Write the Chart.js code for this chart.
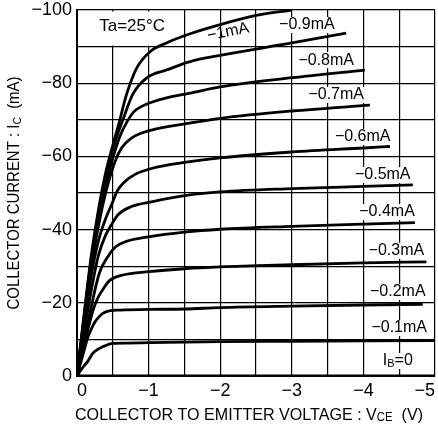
<!DOCTYPE html>
<html>
<head>
<meta charset="utf-8">
<script src="https://cdn.jsdelivr.net/npm/chart.js@4.4.1/dist/chart.umd.min.js"></script>
<style>
  html, body { margin: 0; padding: 0; background: #fff; }
</style>
</head>
<body>
<canvas id="myChart" width="438" height="434"></canvas>
<script>
// IC - VCE curves, magnitudes: [VCE (V), IC (mA)]
const ib_0  = [[0,0],[5,0]];
const ib_01 = [[0,0],[0.05,1.5],[0.1,2.8],[0.15,4],[0.22,6.2],[0.3,7.4],[0.36,8],[0.5,8.9],[0.7,9],[1,9.1],[2,9.4],[3,9.5],[4,9.6],[5,9.7]];
const ib_02 = [[0,0],[0.05,3.5],[0.1,7],[0.15,10.5],[0.2,12.8],[0.24,14.4],[0.3,16],[0.36,17.1],[0.45,17.8],[0.6,18],[1,18.2],[1.5,18.3],[2,18.7],[3,19.1],[4,19.4],[4.83,19.6]];
const ib_03 = [[0,0],[0.1,8.5],[0.2,16.3],[0.24,18.9],[0.3,21.7],[0.36,23.6],[0.45,26],[0.64,27.6],[1,28.5],[1.5,29.3],[2,29.8],[3,30.4],[4,30.9],[4.88,31.2]];
const ib_04 = [[0,0],[0.1,9.5],[0.2,19],[0.31,28],[0.43,32.6],[0.54,35.3],[0.68,36.7],[1,38],[1.5,39.3],[2,40.1],[3,40.9],[4,41.5],[4.72,41.9]];
const ib_05 = [[0,0],[0.1,12],[0.2,23.5],[0.3,33],[0.4,38.5],[0.48,41.3],[0.57,44],[0.76,46.3],[1.04,47.6],[1.55,49.4],[2,50.3],[3,51.2],[4,51.8],[4.69,52.2]];
const ib_06 = [[0,0],[0.1,14],[0.2,27.5],[0.3,37],[0.4,43],[0.48,46.7],[0.57,50.8],[0.76,54.5],[1.04,56.7],[1.55,58.5],[2,59.6],[3,61.2],[4,62.3],[4.37,62.7]];
const ib_07 = [[0,0],[0.1,15],[0.2,30],[0.3,41],[0.4,50],[0.53,58.5],[0.62,62.2],[0.76,65],[1.04,67.2],[1.55,69],[2,70.4],[3,72.4],[4.09,74]];
const ib_08 = [[0,0],[0.1,16],[0.2,31],[0.3,43],[0.4,52],[0.5,59.5],[0.6,65.5],[0.7,69.5],[0.8,72.3],[1,74.5],[1.25,76],[1.58,77.3],[2,79],[3,81.5],[4.02,83.6]];
const ib_09 = [[0,0],[0.1,16.5],[0.2,32],[0.3,44],[0.4,54],[0.5,62],[0.65,70.5],[0.78,77],[0.97,81.4],[1.25,83.6],[1.58,85.9],[2,87.6],[3,91],[3.76,93.7]];
const ib_10 = [[0,0],[0.1,17],[0.2,33],[0.3,45.5],[0.4,55.5],[0.5,63],[0.58,68.6],[0.69,76.8],[0.83,84],[1.02,88.6],[1.25,91],[1.58,93.5],[2,96],[2.5,98.5],[3,100]];

const curves = [ib_0, ib_01, ib_02, ib_03, ib_04, ib_05, ib_06, ib_07, ib_08, ib_09, ib_10];
const ibNames = ['IB=0', '−0.1mA', '−0.2mA', '−0.3mA', '−0.4mA', '−0.5mA', '−0.6mA', '−0.7mA', '−0.8mA', '−0.9mA', '−1mA'];
// where each IB label sits, in chart units [VCE, IC]
const ibLabelAt = [[4.48,4.1],[4.5,13.1],[4.48,23],[4.46,34.2],[4.33,44.8],[4.27,54.9],[3.99,65.3],[3.62,76.8],[3.48,86.3],[3.21,95.9],[2.11,94]];

const FONT = "'Liberation Sans', Arial, sans-serif";
const NARROW = "'Liberation Sans Narrow', 'Liberation Sans', Arial, sans-serif";

// minus sign formatting for the negative axes
function fmt(v)
{
    if (Math.abs(v) < 1e-9) return '0';
    return '\u2212' + Math.abs(v);
}

// draw text made of parts (for subscripts), centred on cx, cy
function richText(ctx, parts, cx, cy, width, angle)
{
    ctx.save();
    ctx.translate(cx, cy);
    ctx.rotate(angle || 0);
    let total = 0;
    parts.forEach(p => {
        ctx.font = p.font;
        p.w = ctx.measureText(p.t).width;
        total += p.w;
    });
    if (width) ctx.scale(width / total, 1);
    let x = -total / 2;
    ctx.textBaseline = 'middle';
    ctx.textAlign = 'left';
    ctx.fillStyle = '#000';
    parts.forEach(p => {
        ctx.font = p.font;
        ctx.fillText(p.t, x, p.dy || 0);
        x += p.w;
    });
    ctx.restore();
    return total;
}

function whiteBox(ctx, x, y, w, h)
{
    ctx.save();
    ctx.fillStyle = '#fff';
    ctx.fillRect(x, y, w, h);
    ctx.restore();
}

const labelsPlugin = {
    id: 'labels',
    beforeDatasetsDraw(chart) {
        const ctx = chart.ctx;
        const xs = chart.scales.x, ys = chart.scales.y;
        const area = chart.chartArea;

        // Ta box in the top left cell
        whiteBox(ctx, area.left + 2, area.top + 1.5, xs.getPixelForValue(-1.5) - area.left - 3, ys.getPixelForValue(-90) - area.top - 2.5);
        richText(ctx, [{t: 'Ta=25°C', font: '17px ' + FONT}], xs.getPixelForValue(-0.77), ys.getPixelForValue(-95.6));

        ibNames.forEach((name, i) => {
            const px = xs.getPixelForValue(-ibLabelAt[i][0]);
            const py = ys.getPixelForValue(-ibLabelAt[i][1]);
            let parts;
            if (i === 0) {
                parts = [{t: 'I', font: '16px ' + FONT}, {t: 'B', font: '11px ' + FONT, dy: 3}, {t: '=0', font: '16px ' + FONT}];
            } else {
                parts = [{t: name, font: '16px ' + FONT}];
            }
            ctx.font = '16px ' + FONT;
            const w = ctx.measureText(name).width;
            if (i < 10) whiteBox(ctx, px - w / 2 - 2, py - 8, w + 4, 16);
            richText(ctx, parts, px, py, null, i === 10 ? -0.2 : 0);
        });
    },
    afterDraw(chart) {
        const ctx = chart.ctx;
        const area = chart.chartArea;
        richText(ctx, [
            {t: 'COLLECTOR TO EMITTER VOLTAGE : V', font: '17px ' + NARROW},
            {t: 'CE', font: '12px ' + NARROW, dy: 3},
            {t: '  (V)', font: '17px ' + NARROW}
        ], 249, 415, 348);
        richText(ctx, [
            {t: 'COLLECTOR CURRENT : I', font: '16px ' + NARROW},
            {t: 'C', font: '11px ' + NARROW, dy: 3},
            {t: '  (mA)', font: '16px ' + NARROW}
        ], 15, (area.top + area.bottom) / 2, 233, -Math.PI / 2);
    }
};

function drawChart()
{
    let datasets = curves.map(c => {
        let obj = {
            data: c.map(p => ({x: -p[0], y: -p[1]})),
            borderColor: '#000',
            borderWidth: 2.8,
            pointRadius: 0,
            fill: false,
            cubicInterpolationMode: 'monotone'
        }
        return obj;
    })
    new Chart('myChart', {
        type: 'line',
        data: { datasets: datasets },
        plugins: [labelsPlugin],
        options: {
            responsive: false,
            animation: false,
            devicePixelRatio: 1,
            layout: { padding: { top: 10, right: 3, left: 0, bottom: 0 } },
            plugins: { legend: { display: false }, tooltip: { enabled: false } },
            scales: {
                x: {
                    type: 'linear',
                    min: -5,
                    max: 0,
                    reverse: true,
                    grid: { color: '#000', lineWidth: 1.2, drawTicks: false },
                    border: { color: '#000', width: 2 },
                    ticks: {
                        stepSize: 0.5,
                        autoSkip: false,
                        maxRotation: 0,
                        align: 'inner',
                        padding: 4,
                        color: '#000',
                        font: { family: NARROW, size: 18 },
                        callback: v => Math.abs(v % 1) < 1e-6 ? fmt(v) : ''
                    },
                    // tick list runs left to right on screen, so 'inner' keeps 0 and -5 inside
                    afterBuildTicks(scale) {
                        scale.ticks.reverse();
                    },
                    afterFit(scale) {
                        scale.height = 58;
                        scale.paddingLeft = 0;
                        scale.paddingRight = 0;
                    }
                },
                y: {
                    type: 'linear',
                    min: -100,
                    max: 0,
                    reverse: true,
                    grid: { color: '#000', lineWidth: 1.2, drawTicks: false },
                    border: { color: '#000', width: 2 },
                    ticks: {
                        stepSize: 10,
                        autoSkip: false,
                        padding: 5,
                        color: '#000',
                        font: { family: NARROW, size: 18 },
                        callback: v => Math.abs(v % 20) < 1e-6 ? fmt(v) : ''
                    },
                    afterFit(scale) {
                        scale.width = 77;
                        scale.paddingTop = 0;
                        scale.paddingBottom = 0;
                    }
                }
            }
        }
    })
}

drawChart();
</script>
</body>
</html>
